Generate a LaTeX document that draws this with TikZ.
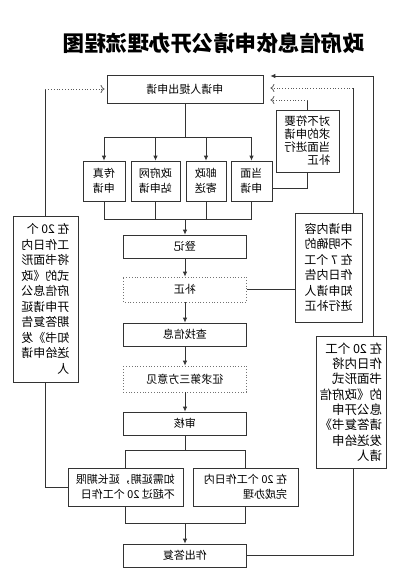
\documentclass[tikz,border=0pt]{standalone}
\usepackage{fontspec}
\setmainfont{Noto Sans CJK SC}
\usetikzlibrary{arrows.meta}

\begin{document}
\begin{tikzpicture}[x=1pt,y=-1pt,xscale=-1,transform shape,line width=0.8pt,draw=black!80,
  box/.style={draw, minimum width=123pt, minimum height=23pt, inner sep=0pt, font=\fontsize{11}{15}\selectfont},
  dotbox/.style={box, dotted, draw=black!55},
  way/.style={draw, minimum height=40pt, inner sep=0pt, align=center, font=\fontsize{11}{15}\selectfont},
  note/.style={draw, inner sep=0pt, align=left, font=\fontsize{12}{15.5}\selectfont},
  arr/.style={-{Latex[length=5pt,width=4.5pt]}},
  backarr/.style={-{To[length=4pt,width=8pt]}, dotted, draw=black!65}]
\useasboundingbox (0,0) rectangle (415,584);

\node[font=\bfseries\fontsize{21.5}{22}\selectfont] (title) at (201,43) {政府信息依申请公开办理流程图};

% main column
\node[box, minimum width=156pt, minimum height=28pt] (apply) at (230,89) {申请人提出申请};
\node[way, minimum width=42pt] (fax) at (311,181) {传真\\申请};
\node[way, minimum width=49pt] (web) at (259.5,181) {政府网\\站申请};
\node[way, minimum width=40pt] (mail) at (209,181) {邮政\\寄送};
\node[way, minimum width=41pt] (face) at (163.5,181) {当面\\申请};

\node[box] (reg) at (230,246.5) {登记};
\node[dotbox, minimum height=25pt] (fix) at (230,289.5) {补正};
\node[box] (find) at (230,334.5) {查找信息};
\node[dotbox, minimum height=26pt] (third) at (230,379) {征求第三方意见};
\node[box] (check) at (230,423.5) {审核};
\node[way, minimum width=115pt, minimum height=38pt, align=left] (extend) at (289.5,487) {如需延期，延长期限\\不超过 20 个工作日};
\node[way, minimum width=105pt, minimum height=38pt, align=left] (done) at (169.5,487) {在 20 个工作日内\\完成办理};
\node[box] (reply) at (230,555.5) {作出答复};

% side notes
\node[note, minimum width=65pt, minimum height=166pt] (delay) at (369.5,299) {在 20 个\\工作日内\\将书面形\\式的《政\\府信息公\\开申请延\\期答复告\\知书》发\\送给申请\\人};
\node[note, font=\fontsize{11.5}{13}\selectfont, minimum width=63pt, minimum height=62pt] (correct) at (107.5,141) {对不符要\\求的申请\\当面进行\\补正};
\node[note, minimum width=67pt, minimum height=109pt] (unclear) at (86.5,267.5) {申请内容\\不明确的\\在 7 个工\\作日内告\\知申请人\\进行补正};
\node[note, font=\fontsize{12.5}{15.3}\selectfont, minimum width=70pt, minimum height=132pt] (notify) at (64,402) {在 20 个工\\作日内将\\书面形式\\的《政府信\\息公开申\\请答复书》\\发送给申\\请人};

\coordinate (split) at (230,137);
\coordinate (merge) at (230,219);
\coordinate (split2) at (230,450);
\coordinate (merge2) at (230,523);

\draw (apply) -- (split);
\foreach \n in {fax,web,mail,face}
  \draw[arr] (split) -| (\n.north);
\foreach \n in {fax,web,mail,face}
  \draw (\n.south) |- (merge);
\draw[arr] (merge) -- (reg.north);
\draw[arr] (reg) -- (fix);
\draw[arr] (fix) -- (find);
\draw[arr] (find) -- (third);
\draw[arr] (third) -- (check);
\draw (check) -- (split2);
\draw (split2) -| (extend.north);
\draw (split2) -| (done.north);
\draw (extend.south) |- (merge2);
\draw (done.south) |- (merge2);
\draw[arr] (merge2) -- (reply.north);

% back to the application
\coordinate (dtop) at (delay.north |- 0,89);
\draw (extend.east) -| (delay.south);
\draw (delay.north) -- (dtop);
\draw[backarr, shorten >=2pt] (dtop) -- (apply.east);

\coordinate (cin) at (face.west |- 0,188);
\coordinate (ctop) at (correct.north |- 0,100);
\draw (cin) -| (correct.south);
\draw (correct.north) -- (ctop);
\draw[backarr, shorten >=7pt] (ctop) -- (apply.west |- 0,100);

\coordinate (ubot) at (unclear.north -| 62,0);
\coordinate (utop) at (62,88);
\draw (fix.west) -- (unclear.east |- fix.west);
\draw (ubot) -- (utop);
\draw[backarr, shorten >=7pt] (utop) -- (apply.west |- 0,88);

\coordinate (nbot) at (notify.north -| 42,0);
\draw (reply.west) -| (notify.south -| 62,0);
\draw[arr, shorten >=7pt] (nbot) |- (apply.west |- 0,76);
\end{tikzpicture}
\end{document}
